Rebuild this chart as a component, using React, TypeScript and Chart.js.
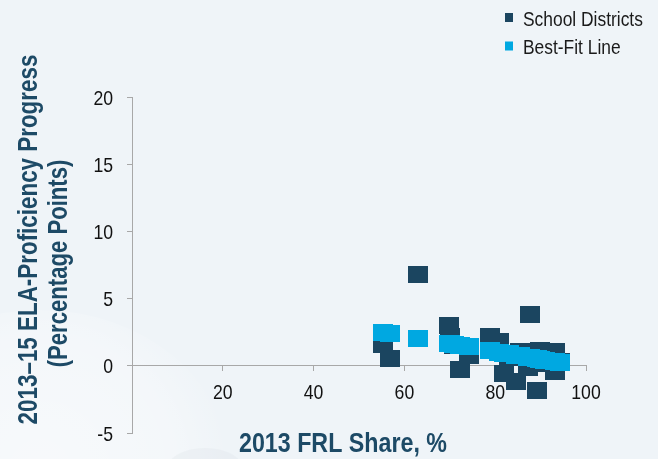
import React, { useEffect, useRef } from 'react';
import { Chart, registerables } from 'chart.js';

Chart.register(...registerables);

// ---- data ----
const districtShare = [55.3, 56.8, 63.0, 69.8, 70.0, 71.0, 72.3, 74.2, 78.9, 80.8, 81.9, 83.0, 84.6, 85.5, 87.3, 87.7, 89.1, 89.9, 91.0, 93.2, 93.2, 94.3];
const districtProgress = [1.6, 0.55, 6.77, 3.02, 2.2, 1.5, -0.28, 0.74, 2.15, 1.83, -0.57, 0.6, -1.15, 1.04, -0.12, 3.8, -1.84, 1.14, 0.2, -0.45, 1.04, 0.3];
const fitShare = [55.3, 56.8, 63.0, 69.8, 70.0, 71.0, 72.3, 74.2, 78.9, 80.8, 81.9, 83.0, 84.6, 85.5, 87.3, 87.7, 89.1, 89.9, 91.0, 93.2, 94.3];
const fitProgress = [2.49, 2.41, 2.05, 1.65, 1.64, 1.58, 1.51, 1.40, 1.12, 1.01, 0.95, 0.89, 0.79, 0.74, 0.64, 0.61, 0.53, 0.49, 0.42, 0.29, 0.23];
const seriesLabels = ['School Districts', 'Best-Fit Line'];
const xTicks = [20, 40, 60, 80, 100];
const yTicks = [-5, 0, 5, 10, 15, 20];
const xTitle = '2013 FRL Share, %';
const yTitleLines = ['2013\u201315 ELA-Proficiency Progress', '(Percentage Points)'];

const NAVY = '#1b4560';
const CYAN = '#00a8e1';
const BG = '#eff4f8';
const TITLE = '#1d4a66';
const AXIS = '#a8a8a8';
const FONT = "'Liberation Sans', Arial, sans-serif";

function makeRect(color: string) {
  const c = document.createElement('canvas');
  c.width = 20;
  c.height = 17;
  const g = c.getContext('2d')!;
  g.fillStyle = color;
  g.fillRect(0, 0, 20, 17);
  return c;
}

function narrow(ctx: CanvasRenderingContext2D, text: string, x: number, y: number, sx: number, align: CanvasTextAlign, rot = 0) {
  ctx.save();
  ctx.translate(x, y);
  if (rot) ctx.rotate(rot);
  ctx.scale(sx, 1);
  ctx.textAlign = align;
  ctx.textBaseline = 'alphabetic';
  ctx.fillText(text, 0, 0);
  ctx.restore();
}

const decor = {
  id: 'decor',
  beforeDraw(chart: any) {
    const ctx = chart.ctx as CanvasRenderingContext2D;
    ctx.save();
    ctx.fillStyle = BG;
    ctx.fillRect(0, 0, chart.width, chart.height);
    // faint watermark shapes
    const g = ctx.createRadialGradient(40, 470, 10, 40, 470, 190);
    g.addColorStop(0, 'rgba(255,255,255,0.5)');
    g.addColorStop(0.7, 'rgba(255,255,255,0.3)');
    g.addColorStop(1, 'rgba(255,255,255,0)');
    ctx.fillStyle = g;
    ctx.beginPath();
    ctx.ellipse(40, 470, 190, 160, 0, 0, Math.PI * 2);
    ctx.fill();
    ctx.fillStyle = 'rgba(200,208,214,0.15)';
    ctx.beginPath();
    ctx.ellipse(205, 472, 40, 24, 0, 0, Math.PI * 2);
    ctx.fill();
    ctx.restore();
  },
  afterDraw(chart: any) {
    const ctx = chart.ctx as CanvasRenderingContext2D;
    const xs = chart.scales.x;
    const ys = chart.scales.y;
    ctx.save();
    // tick labels
    ctx.font = `21px ${FONT}`;
    ctx.fillStyle = '#111';
    const xAxisY = ys.getPixelForValue(0);
    xTicks.forEach((v) => narrow(ctx, String(v), xs.getPixelForValue(v), xAxisY + 33, 0.84, 'center'));
    const yAxisX = xs.getPixelForValue(0);
    yTicks.forEach((v) => narrow(ctx, String(v), yAxisX - 19, ys.getPixelForValue(v) + 7.5, 0.84, 'right'));
    // legend
    const ds = chart.data.datasets;
    ctx.fillStyle = NAVY;
    ctx.fillRect(505, 13, 8, 9);
    ctx.fillStyle = CYAN;
    ctx.fillRect(505, 41.5, 8, 9);
    ctx.font = `20px ${FONT}`;
    ctx.fillStyle = '#1a1a1a';
    narrow(ctx, ds[1].label, 523, 26, 0.87, 'left');
    narrow(ctx, ds[0].label, 523, 53.5, 0.87, 'left');
    // x title
    ctx.font = `bold 28px ${FONT}`;
    ctx.fillStyle = TITLE;
    narrow(ctx, xTitle, 343, 452, 0.83, 'center');
    // y title
    narrow(ctx, yTitleLines[0], 37, 239.5, 0.8, 'center', -Math.PI / 2);
    narrow(ctx, yTitleLines[1], 67, 263.5, 0.79, 'center', -Math.PI / 2);
    ctx.restore();
  },
};

export default function App() {
  const ref = useRef<HTMLCanvasElement>(null);
  useEffect(() => {
    if (!ref.current) return;
    const navyPt = makeRect(NAVY);
    const cyanPt = makeRect(CYAN);
    const chart = new Chart(ref.current, {
      type: 'scatter',
      data: {
        datasets: [
          {
            label: seriesLabels[1],
            data: fitShare.map((x, i) => ({ x, y: fitProgress[i] })),
            pointStyle: cyanPt as any,
            pointRadius: 10,
            backgroundColor: CYAN,
            order: 0,
          },
          {
            label: seriesLabels[0],
            data: districtShare.map((x, i) => ({ x, y: districtProgress[i] })),
            pointStyle: navyPt as any,
            pointRadius: 10,
            backgroundColor: NAVY,
            order: 1,
          },
        ],
      },
      options: {
        animation: false,
        responsive: false,
        devicePixelRatio: 1,
        layout: { padding: { left: 132, right: 72, top: 97, bottom: 26 } },
        plugins: { legend: { display: false }, tooltip: { enabled: false } },
        scales: {
          x: {
            type: 'linear',
            position: { y: 0 } as any,
            min: 0,
            max: 100,
            border: { display: true, color: AXIS, width: 1 },
            grid: { drawOnChartArea: false, drawTicks: true, tickLength: 5, color: AXIS },
            ticks: { stepSize: 20, display: false },
          },
          y: {
            type: 'linear',
            position: { x: 0 } as any,
            min: -5,
            max: 20,
            border: { display: true, color: AXIS, width: 1 },
            grid: { drawOnChartArea: false, drawTicks: true, tickLength: 5, color: AXIS },
            ticks: { stepSize: 5, display: false },
          },
        },
      },
      plugins: [decor],
    });
    return () => chart.destroy();
  }, []);
  return (
    <div style={{ position: 'fixed', left: 0, top: 0, width: 658, height: 459, background: BG }}>
      <canvas ref={ref} width={658} height={459} style={{ display: 'block' }} />
    </div>
  );
}
